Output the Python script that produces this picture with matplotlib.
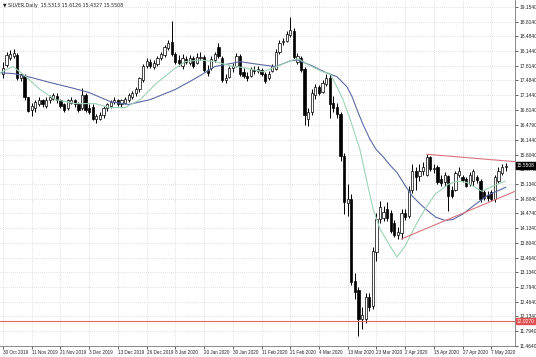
import matplotlib
matplotlib.use("Agg")
import matplotlib.pyplot as plt
import matplotlib.transforms as mtransforms
import numpy as np

plt.rcParams.update({"font.family": "Liberation Sans", "font.size": 3.4})

SYMBOL = "SILVER,Daily"

# daily OHLC, bar 0 = 30 Oct 2019
OPEN = [17.62, 17.84, 18.00, 18.05, 18.07, 17.53, 17.59, 17.10, 16.82, 16.87,
        16.96, 17.03, 16.91, 17.03, 17.07, 17.14, 17.05, 16.94, 16.87, 16.98,
        17.03, 16.96, 16.87, 17.16, 16.87, 16.89, 16.62, 16.62, 16.69, 16.85,
        16.91, 17.00, 17.03, 16.96, 16.98, 17.05, 17.12, 17.19, 17.28, 17.50,
        17.82, 17.91, 17.80, 17.86, 18.00, 18.07, 18.23, 18.36, 18.09, 17.95,
        17.82, 17.98, 17.89, 18.00, 17.89, 18.00, 18.02, 17.73, 17.77, 17.95,
        18.25, 18.00, 17.50, 17.57, 17.77, 17.82, 18.05, 17.68, 17.59, 17.59,
        17.73, 17.71, 17.73, 17.64, 17.53, 17.71, 17.75, 18.14, 18.36, 18.38,
        18.52, 18.61, 17.91, 18.00, 17.75, 16.60, 16.76, 17.16, 17.34, 17.23,
        17.41, 17.55, 16.98, 16.89, 16.73, 15.76, 14.70, 14.79, 12.93, 12.73,
        12.07, 12.07, 12.57, 12.37, 13.59, 14.34, 14.36, 14.56, 14.47, 14.25,
        13.97, 14.02, 14.47, 14.40, 14.99, 15.42, 15.31, 15.42, 15.35, 15.74,
        15.47, 15.51, 15.24, 15.17, 15.31, 15.01, 15.01, 15.35, 15.29, 15.24,
        15.13, 15.20, 15.29, 15.20, 14.95, 14.88, 14.95, 14.79, 15.20, 15.38,
        15.5313]
HIGH = [17.91, 18.14, 18.18, 18.20, 18.11, 17.66, 17.62, 17.12, 16.98, 17.05,
        17.10, 17.07, 17.10, 17.16, 17.21, 17.19, 17.07, 16.98, 17.07, 17.10,
        17.07, 17.00, 17.32, 17.21, 16.96, 16.94, 16.73, 16.78, 16.91, 16.98,
        17.05, 17.10, 17.07, 17.07, 17.12, 17.21, 17.25, 17.34, 17.57, 17.86,
        18.00, 17.98, 17.95, 18.05, 18.14, 18.29, 18.41, 18.84, 18.14, 18.07,
        18.09, 18.05, 18.07, 18.05, 18.11, 18.14, 18.07, 17.84, 18.05, 18.14,
        18.34, 18.05, 17.62, 17.82, 17.89, 18.11, 18.09, 17.77, 17.68, 17.80,
        17.82, 17.82, 17.77, 17.68, 17.71, 17.86, 18.20, 18.41, 18.45, 18.61,
        18.93, 18.68, 18.11, 18.05, 17.80, 16.87, 17.28, 17.41, 17.39, 17.50,
        17.62, 17.62, 17.14, 16.98, 16.78, 15.85, 15.13, 14.90, 13.11, 12.80,
        12.34, 12.66, 12.66, 13.70, 14.47, 14.74, 14.63, 14.72, 14.54, 14.31,
        14.15, 14.56, 14.56, 15.10, 15.58, 15.51, 15.58, 15.63, 15.81, 15.78,
        15.58, 15.56, 15.33, 15.40, 15.35, 15.10, 15.44, 15.51, 15.33, 15.29,
        15.40, 15.47, 15.35, 15.24, 15.01, 14.97, 14.99, 15.33, 15.51, 15.60,
        15.6126]
LOW = [17.55, 17.80, 17.95, 18.00, 17.50, 17.48, 17.05, 16.76, 16.67, 16.78,
       16.91, 16.89, 16.87, 16.98, 17.03, 16.98, 16.87, 16.78, 16.82, 16.94,
       16.89, 16.78, 16.82, 16.78, 16.73, 16.58, 16.53, 16.58, 16.64, 16.80,
       16.87, 16.96, 16.91, 16.89, 16.94, 17.00, 17.07, 17.14, 17.23, 17.46,
       17.77, 17.77, 17.75, 17.82, 17.95, 18.02, 18.18, 18.05, 17.86, 17.82,
       17.75, 17.86, 17.84, 17.77, 17.86, 17.95, 17.68, 17.59, 17.73, 17.91,
       18.00, 17.46, 17.43, 17.53, 17.68, 17.80, 17.59, 17.53, 17.48, 17.57,
       17.64, 17.66, 17.59, 17.43, 17.50, 17.68, 17.73, 18.09, 18.29, 18.36,
       18.48, 17.98, 17.86, 17.68, 16.48, 16.44, 16.69, 17.07, 17.16, 17.19,
       17.37, 16.64, 16.78, 16.64, 15.65, 14.45, 14.40, 12.84, 12.53, 11.69,
       11.85, 11.98, 12.25, 12.30, 13.39, 14.25, 14.29, 14.29, 14.02, 13.93,
       13.88, 13.88, 14.31, 14.36, 14.92, 15.01, 15.20, 15.35, 15.31, 15.42,
       15.38, 15.13, 15.08, 15.10, 14.52, 14.81, 14.97, 15.29, 15.17, 15.06,
       15.08, 15.10, 15.15, 14.72, 14.77, 14.74, 14.74, 14.72, 15.15, 15.33,
       15.4327]
CLOSE = [17.77, 18.07, 18.09, 18.11, 17.55, 17.62, 17.10, 16.80, 16.91, 17.00,
         17.05, 16.96, 17.05, 17.12, 17.16, 17.03, 16.91, 16.82, 17.03, 17.05,
         16.94, 16.82, 17.16, 16.82, 16.78, 16.62, 16.67, 16.71, 16.87, 16.94,
         17.00, 17.03, 16.96, 17.03, 17.07, 17.16, 17.21, 17.30, 17.53, 17.82,
         17.93, 17.82, 17.89, 18.00, 18.09, 18.25, 18.34, 18.09, 17.91, 17.89,
         18.00, 17.91, 18.00, 17.82, 18.02, 18.02, 17.73, 17.66, 17.98, 18.09,
         18.05, 17.50, 17.55, 17.77, 17.82, 18.05, 17.64, 17.59, 17.55, 17.75,
         17.71, 17.75, 17.64, 17.48, 17.64, 17.82, 18.14, 18.34, 18.38, 18.54,
         18.63, 18.02, 18.05, 17.73, 16.69, 16.78, 17.19, 17.34, 17.21, 17.43,
         17.55, 16.96, 16.87, 16.73, 15.78, 14.72, 14.79, 12.91, 12.68, 12.07,
         12.16, 12.57, 12.34, 13.61, 14.34, 14.61, 14.49, 14.36, 14.06, 13.97,
         14.04, 14.47, 14.38, 15.01, 15.42, 15.29, 15.42, 15.51, 15.74, 15.47,
         15.49, 15.17, 15.15, 15.33, 14.86, 14.86, 15.38, 15.42, 15.22, 15.10,
         15.33, 15.42, 15.22, 14.79, 14.81, 14.81, 14.79, 15.29, 15.44, 15.51,
         15.5508]

# moving averages (bar index, price)
FAST_MA_BARS = [-0.8, 2.8, 6.1, 10.3, 14.5, 20.1, 25.6, 29.8, 34.0, 38.2, 42.3,
                47.4, 50.7, 54.9, 59.1, 63.2, 67.4, 72.4, 76.3, 79.9, 82.2, 85.5,
                89.1, 91.1, 93.0, 94.7, 96.7, 99.4, 101.4, 103.1, 105.0, 107.8,
                109.7, 112.0, 114.8, 117.5, 120.3, 124.0, 126.7, 129.2, 131.5,
                133.4, 136.2, 139.8]
FAST_MA = [17.66, 17.80, 17.59, 17.28, 17.05, 16.96, 16.96, 16.87, 16.87, 17.05,
           17.39, 17.73, 17.91, 17.95, 17.91, 17.82, 17.77, 17.68, 17.80, 17.93,
           17.98, 17.82, 17.68, 17.64, 17.34, 17.05, 16.60, 15.92, 15.17, 14.56,
           14.11, 13.73, 13.48, 13.73, 14.18, 14.56, 14.90, 15.13, 15.20, 15.17,
           15.06, 14.97, 15.08, 15.20]
SLOW_MA_BARS = [-0.8, 3, 8, 13, 19, 24, 30, 35, 41, 48, 54, 59, 66, 72, 76, 80,
                82, 86, 90, 93, 95.8, 97.2, 98.6, 100.3, 102.2, 103.9, 105.8,
                107.8, 109.7, 112, 114, 116.2, 118.4, 120.6, 123.1, 125.3, 128,
                131.5, 135, 140]
SLOW_MA = [17.66, 17.64, 17.55, 17.44, 17.32, 17.21, 17.00, 16.94, 17.05, 17.28,
           17.55, 17.80, 17.91, 17.84, 17.80, 17.93, 17.95, 17.82, 17.66, 17.57,
           17.34, 17.12, 16.82, 16.48, 16.15, 15.92, 15.76, 15.56, 15.40, 15.10,
           14.86, 14.68, 14.52, 14.38, 14.31, 14.33, 14.45, 14.67, 14.88, 15.06]

# drawn objects: two trendline rays (anchor bar, anchor price) and a level
UPPER_TREND = [(118, 15.81), (140, 15.66)]
LOWER_TREND = [(111, 13.89), (140, 14.88)]
H_LEVEL = 12.027

PRICE_TICKS = [19.1540, 18.8140, 18.4840, 18.1440, 17.8140, 17.4840, 17.1440,
               16.8140, 16.4790, 16.1440, 15.8040, 15.4740, 15.1340, 14.8040,
               14.4740, 14.1340, 13.8040, 13.4640, 13.1340, 12.7940, 12.4640,
               12.1340, 11.7940, 11.4640]
DATE_LABELS = ["30 Oct 2019", "11 Nov 2019", "21 Nov 2019", "3 Dec 2019",
               "13 Dec 2019", "26 Dec 2019", "8 Jan 2020", "20 Jan 2020",
               "30 Jan 2020", "11 Feb 2020", "21 Feb 2020", "4 Mar 2020",
               "13 Mar 2020", "23 Mar 2020", "2 Apr 2020", "15 Apr 2020",
               "27 Apr 2020", "7 May 2020"]
DATE_STEP = 8

XMIN, XMAX = -0.84, 142.6
YMIN, YMAX = 11.46, 19.31


def main():
    fig = plt.figure(figsize=(5.36, 3.57), dpi=100)
    ax = fig.add_axes([0.0, 11 / 357, 515 / 536, 346 / 357])

    o, h, l, c = (np.asarray(a) for a in (OPEN, HIGH, LOW, CLOSE))
    x = np.arange(len(o))
    up = c >= o

    ax.vlines(x, l, h, color="black", linewidth=0.7, zorder=3)
    body_lo = np.minimum(o, c)
    body_h = np.maximum(np.abs(c - o), 0.006)
    ax.bar(x[up], body_h[up], bottom=body_lo[up], width=0.62,
           color="white", edgecolor="black", linewidth=0.5, zorder=4)
    ax.bar(x[~up], body_h[~up], bottom=body_lo[~up], width=0.62,
           color="black", edgecolor="black", linewidth=0.5, zorder=4)

    ax.plot(SLOW_MA_BARS, SLOW_MA, color="#5b6aa5", linewidth=0.8, zorder=5)
    ax.plot(FAST_MA_BARS, FAST_MA, color="#9cd3b3", linewidth=0.8, zorder=5)

    for (x1, y1), (x2, y2) in (UPPER_TREND, LOWER_TREND):
        slope = (y2 - y1) / (x2 - x1)
        ax.plot([x1, XMAX], [y1, y1 + slope * (XMAX - x1)],
                color="#d9737d", linewidth=0.8, zorder=5)
    ax.axhline(H_LEVEL, color="#e06565", linewidth=0.8, zorder=5)

    ax.set_xlim(XMIN, XMAX)
    ax.set_ylim(YMIN, YMAX)

    # price scale on the right
    ax.yaxis.tick_right()
    ax.set_yticks(PRICE_TICKS)
    ax.set_yticklabels([f"{t:.4f}" for t in PRICE_TICKS])
    ax.tick_params(axis="y", length=2, width=0.5, pad=1.2, labelsize=3.5,
                   colors="#222222")
    pos = list(range(0, DATE_STEP * len(DATE_LABELS), DATE_STEP))
    ax.set_xticks(pos)
    ax.set_xticklabels(DATE_LABELS, ha="left")
    ax.tick_params(axis="x", length=2, width=0.5, pad=1, labelsize=3.3,
                   colors="#222222")
    for sp in ax.spines.values():
        sp.set_linewidth(0.6)
        sp.set_color("#777777")
    ax.spines["top"].set_visible(False)
    ax.spines["left"].set_visible(False)

    ax.grid(True, linestyle=(0, (1, 2)), color="#c4c4c4", linewidth=0.5)
    ax.set_axisbelow(True)

    trans = mtransforms.blended_transform_factory(ax.transAxes, ax.transData)
    ax.text(1.004, CLOSE[-1], f"{CLOSE[-1]:.4f}", transform=trans,
            fontsize=3.5, color="white", ha="left", va="center", zorder=10,
            bbox=dict(boxstyle="square,pad=0.2", fc="black", ec="black"))
    ax.text(1.004, H_LEVEL, f"{H_LEVEL:.4f}", transform=trans,
            fontsize=3.5, color="white", ha="left", va="center", zorder=10,
            bbox=dict(boxstyle="square,pad=0.2", fc="#e05050", ec="#e05050"))

    ax.text(0.005, 0.99,
            f"\u25bc {SYMBOL}  {OPEN[-1]:.4f} {HIGH[-1]:.4f} "
            f"{LOW[-1]:.4f} {CLOSE[-1]:.4f}",
            transform=ax.transAxes, fontsize=3.4, color="#222222",
            ha="left", va="top", zorder=10, family=["DejaVu Sans"])

    fig.savefig("out.png", dpi=100, facecolor="white")


if __name__ == "__main__":
    main()
